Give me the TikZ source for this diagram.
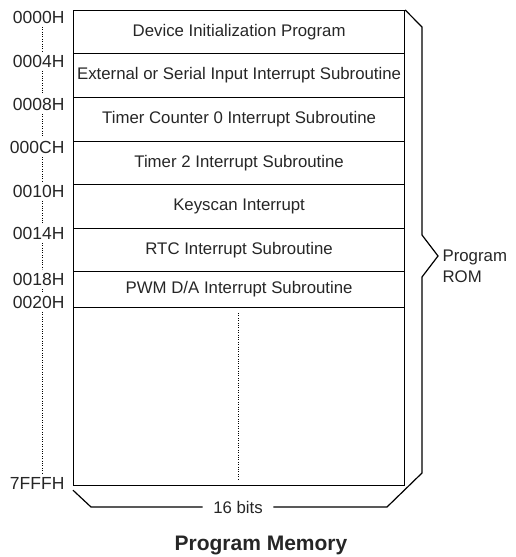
\documentclass[tikz,border=0pt]{standalone}
\usepackage{fontspec}
\setmainfont{Liberation Sans}
\begin{document}
\begin{tikzpicture}[x=1pt, y=-1pt, line width=1.2pt, every node/.style={text=black!85},
  cell/.style={draw, minimum width=331pt, inner sep=0pt, anchor=north west, font=\fontsize{16.8}{19}\selectfont},
  addr/.style={anchor=east, inner sep=0pt, font=\fontsize{17.5}{19}\selectfont},
  dots/.style={line width=0.8pt, dash pattern=on 0.8pt off 1.6pt, shorten >=3pt, shorten <=3pt}]
\useasboundingbox (0,0) rectangle (516,557);
\node [cell, minimum height=43pt](r1) at (73,10) {Device Initialization Program};
\node [cell, minimum height=44pt](r2) at (73,53) {External or Serial Input Interrupt Subroutine};
\node [cell, minimum height=44pt](r3) at (73,97) {Timer Counter 0 Interrupt Subroutine};
\node [cell, minimum height=43pt](r4) at (73,141) {Timer 2 Interrupt Subroutine};
\node [cell, minimum height=44pt](r5) at (73,184) {Keyscan Interrupt};
\node [cell, minimum height=43pt](r6) at (73,228) {RTC Interrupt Subroutine};
\node [cell, minimum height=36pt](r7) at (73,271) {PWM D/A Interrupt Subroutine};
\node [cell, minimum height=178pt](r8) at (73,307) {};
\node [addr](a0) at (65,17) {0000H};
\node [addr](a1) at (65,61) {0004H};
\node [addr](a2) at (65,104) {0008H};
\node [addr](a3) at (65,147) {000CH};
\node [addr](a4) at (65,191) {0010H};
\node [addr](a5) at (65,233) {0014H};
\node [addr](a6) at (65,279) {0018H};
\node [addr](a7) at (65,302) {0020H};
\node [addr](a8) at (65,483) {7FFFH};
\coordinate (dx) at (42,0);
\foreach \a/\b in {a0/a1,a1/a2,a2/a3,a3/a4,a4/a5,a5/a6,a6/a7,a7/a8}
  \draw [dots] (\a.south -| dx) -- (\b.north -| dx);
\coordinate (mid top) at (238,313);
\coordinate (mid bot) at (238,480);
\draw [dots, shorten >=0pt, shorten <=0pt] (mid top) -- (mid bot);
\node [inner xsep=10pt, font=\fontsize{16.8}{19}\selectfont](bits) at (238,507) {16 bits};
\node [anchor=west, align=left, inner sep=0pt, font=\fontsize{16.8}{21}\selectfont](rom) at (442,266) {Program\\ROM};
\draw (r1.north east) -- (422,27) -- (422,235) -- (438,256) -- (422,277) -- (422,473) -- (387,507) -- (bits.east);
\draw (bits.west) -- (91,507) -- ([yshift=-4pt]r8.south west);
\node [font=\bfseries\fontsize{21}{25}\selectfont](title) at (261,545) {Program Memory};
\end{tikzpicture}
\end{document}
